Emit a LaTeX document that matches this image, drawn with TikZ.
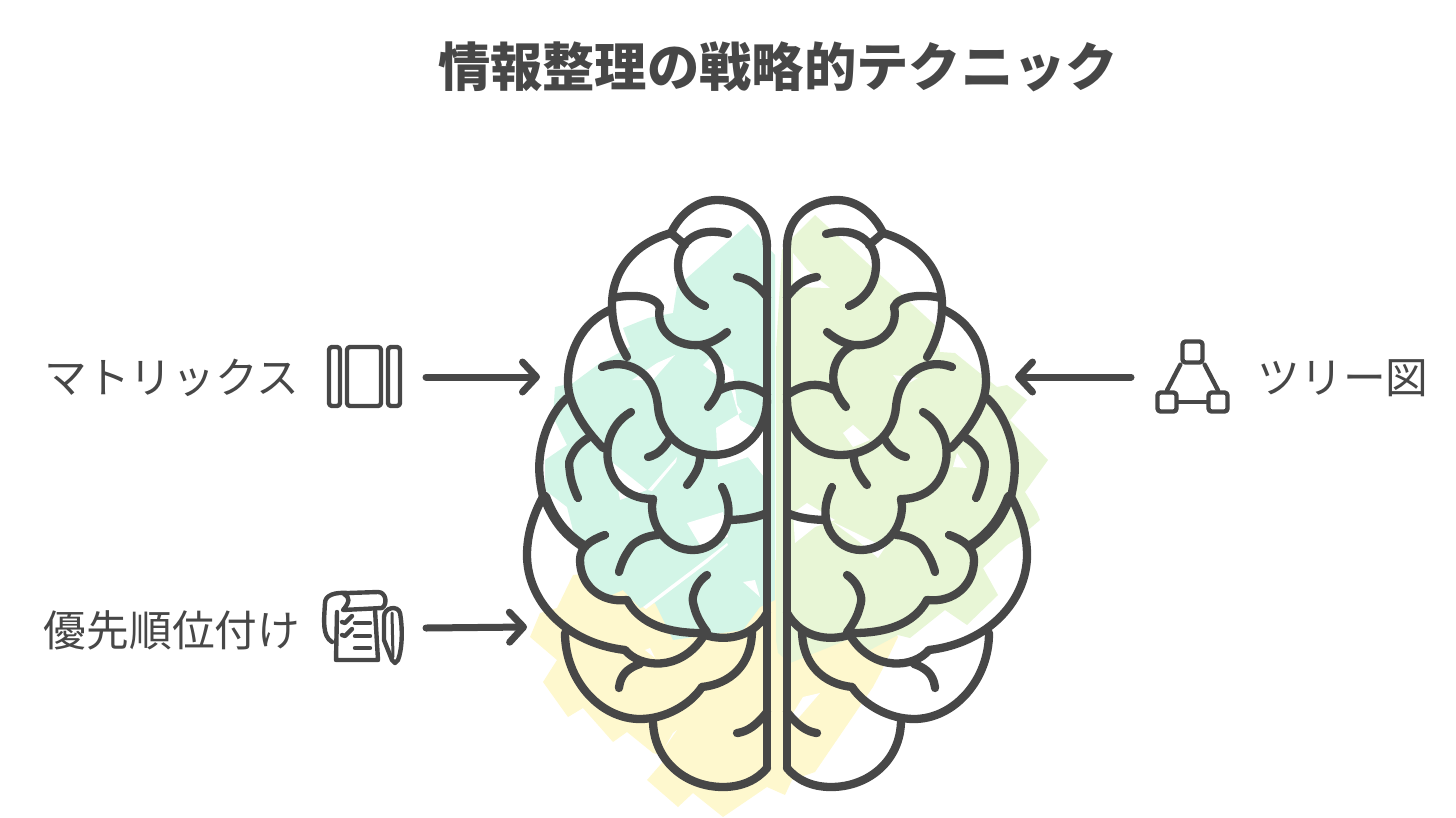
\documentclass[tikz,border=0pt]{standalone}
\usepackage{fontspec}
\setmainfont{Noto Sans CJK JP}
\usetikzlibrary{arrows.meta}
\definecolor{inkgray}{HTML}{474747}
\definecolor{mintpatch}{HTML}{D3F5E7}
\definecolor{greenpatch}{HTML}{E8F6D6}
\definecolor{yellowpatch}{HTML}{FEF8CE}
\tikzset{
 every plot/.style={smooth, tension=.95},
 brainline/.style={draw=inkgray, line width=8.3pt, line cap=round, line join=round},
 iconline/.style={draw=inkgray, line width=4.4pt, line cap=round, line join=round},
 iconbox/.style={iconline, rounded corners=3pt, minimum size=19pt, inner sep=0pt},
 pointer/.style={draw=inkgray, line width=7pt, line cap=round, -{Straight Barb[length=14pt,width=30pt,round]}},
 label/.style={text=inkgray, font=\fontsize{42.7}{43}\selectfont, inner sep=0pt},
}
\begin{document}
\begin{tikzpicture}[x=1pt,y=-1pt]
\useasboundingbox (0,0) rectangle (1456,817);
% patches behind the brain
\fill[yellowpatch] (573,575)--(557,608)--(540,613)--(530,637)--(557,660)--(543,682)--(568,717)--(583,708)--(613,742)--(627,732)--(653,753)--(667,757)--(647,780)--(678,807)--(693,793)--(723,817)--(767,787)--(785,795)--(792,780)--(815,772)--(873,687)--(882,670)--(898,637)--(850,560)--(700,560)--cycle;
\fill[greenpatch] (815,215)--(793,237)--(782,250)--(776,350)--(776,640)--(778,653)--(790,663)--(847,640)--(870,650)--(898,635)--(910,638)--(945,610)--(967,625)--(998,595)--(983,568)--(1007,545)--(1020,537)--(1040,520)--(1037,512)--(1025,492)--(1048,460)--(1010,420)--(1027,400)--(1007,385)--(997,387)--(955,353)--(940,352)--(937,327)--cycle;
\fill[mintpatch] (748,224)--(775,255)--(775,600)--(760,607)--(743,630)--(673,640)--(655,603)--(640,608)--(623,590)--(607,597)--(585,577)--(567,507)--(545,490)--(545,460)--(567,445)--(553,417)--(555,387)--(573,383)--(600,363)--(630,347)--(623,328)--(648,318)--(673,313)--(677,287)--(687,278)--cycle;
% gaps left in the patches
\foreach \gap in {
 {(632,380)--(657,363)--(675,355)--(653,380)--cycle},
 {(703,365)--(713,355)--(733,370)--(737,405)--(742,412)--(716,428)--(718,467)--(748,457)--(764,477)--(764,433)--(740,420)--(730,385)--cycle},
 {(613,463)--(647,490)--(620,500)--cycle},
 {(648,490)--(677,457)--(676,462)--(652,491)--cycle},
 {(687,523)--(723,512)--(728,537)--(700,545)--cycle},
 {(643,607)--(705,560)--(727,543)--(728,545)--(707,563)--(646,609)--cycle},
 {(743,582)--(755,580)--(760,597)--cycle},
 {(793,253)--(807,270)--(830,288)--(793,287)--cycle},
 {(893,375)--(918,378)--(902,387)--cycle},
 {(843,433)--(853,425)--(870,440)--(853,447)--cycle},
 {(957,453)--(967,468)--(953,467)--cycle},
 {(793,513)--(807,503)--(835,520)--(815,527)--(795,543)--cycle},
 {(833,522)--(857,540)--(878,558)--(900,525)--(880,545)--(860,535)--cycle},
 {(803,697)--(820,693)--(795,722)--(790,718)--cycle},
 {(645,650)--(650,648)--(655,658)--cycle},
 {(673,733)--(677,730)--(665,747)--cycle}} {
 \fill[white] \gap;
}
% one half of the brain, then its mirror image
\foreach \off/\side in {0/1, 1554/-1} {
\begin{scope}[xshift=\off pt, xscale=\side]
 \draw[brainline] (767,247)--(767,768);
 \draw[brainline] (767,247) .. controls (767,218) and (745,200) .. (717,200) .. controls (697,200) and (680,214) .. (671,233);
 \draw[brainline] (671,233) .. controls (635,243) and (612,270) .. (612,305) .. controls (612,325) and (618,342) .. (627,357);
 \draw[brainline] (671,233)--(685,245);
 \draw[brainline] (728,234) .. controls (700,226) and (678,240) .. (678,265) .. controls (678,285) and (690,300) .. (705,306);
 \draw[brainline] (613,298) .. controls (630,294) and (655,295) .. (660,307);
 \draw[brainline] (660,307) .. controls (655,330) and (675,347) .. (700,345) .. controls (710,344) and (720,338) .. (727,332);
 \draw[brainline] (700,345) .. controls (718,352) and (732,380) .. (708,407);
 \draw[brainline] plot coordinates {(720,390) (743,385) (767,395)};
 \draw[brainline] plot coordinates {(737,277) (753,283) (767,297)};
 \draw[brainline] (602,367) .. controls (625,358) and (655,370) .. (658,407) .. controls (660,435) and (685,455) .. (713,455) .. controls (745,455) and (767,430) .. (767,400);
 \draw[brainline] (610,310) .. controls (583,322) and (568,350) .. (568,382) .. controls (568,405) and (585,430) .. (603,448);
 \draw[brainline] (631,412) .. controls (608,425) and (600,455) .. (615,480) .. controls (625,495) and (640,499) .. (653,499);
 \draw[brainline] (653,499)--(652,506) .. controls (652,530) and (670,550) .. (693,550) .. controls (718,550) and (740,522) .. (722,487);
 \draw[brainline] plot coordinates {(729,520) (750,518) (767,513)};
 \draw[brainline] plot coordinates {(648,457) (660,451) (670,438)};
 \draw[brainline] plot coordinates {(687,485) (697,470) (700,457)};
 \draw[brainline] plot coordinates {(578,498) (570,473) (573,453) (588,438)};
 \draw[brainline] (567,398) .. controls (548,415) and (536,450) .. (540,480) .. controls (541,488) and (542,492) .. (543,497);
 \draw[brainline] (543,497) .. controls (533,515) and (527,535) .. (527,555) .. controls (527,600) and (565,643) .. (625,650);
 \draw[brainline, line width=10.5pt] plot coordinates {(545,497) (560,525) (582,545)};
 \draw[brainline] (605,535) .. controls (590,540) and (580,548) .. (580,560) .. controls (580,585) and (600,603) .. (627,600);
 \draw[brainline] (627,600) .. controls (640,625) and (670,633) .. (700,633) .. controls (720,642) and (752,640) .. (767,613);
 \draw[brainline] plot coordinates {(619,572) (627,553) (640,540) (658,535)};
 \draw[brainline] plot coordinates {(707,575) (695,590) (695,610) (707,632)};
 \draw[brainline] (625,650) .. controls (640,668) and (680,672) .. (703,637);
 \draw[brainline] plot coordinates {(619,688) (625,673) (640,664)};
 \draw[brainline] (565,633) .. controls (565,680) and (600,719) .. (640,719) .. controls (665,719) and (690,705) .. (702,687);
 \draw[brainline] (702,687) .. controls (730,684) and (752,665) .. (752,630);
 \draw[brainline] (653,720) .. controls (653,760) and (685,787) .. (723,787) .. controls (742,787) and (757,780) .. (767,768);
 \draw[brainline] plot coordinates {(737,733) (752,727) (767,712)};
\end{scope}
}
% title and labels
\node[text=inkgray, font=\fontsize{52.3}{53}\selectfont\bfseries, inner sep=0pt] (title) at (778,67) {情報整理の戦略的テクニック};
\node[label] (matrixlabel) at (172,378) {マトリックス};
\node[label] (prioritylabel) at (172,630) {優先順位付け};
\node[label] (treelabel) at (1343,378) {ツリー図};
% matrix icon
\foreach \xa/\xb in {329/340, 347/381, 388/400} {
 \draw[iconline, rounded corners=3pt] (\xa,347) rectangle (\xb,406);
}
% priority icon
\draw[iconline] (337,612)--(336,660)--(378,660)--(375,610);
\draw[iconline] (332,642) .. controls (322,636) and (324,620) .. (325,603) .. controls (325,595) and (335,592) .. (348,593)--(378,592) .. controls (386,592) and (388,604) .. (382,608)--(343,610) .. controls (350,602) and (350,597) .. (344,594);
\foreach \y in {623,636} {
 \draw[iconline] (342,\y-1)--(345,\y)--(352,\y-7);
}
\foreach \y in {623,636,648} {
 \draw[iconline] (355,\y)--(370,\y);
}
\draw[iconline] (384,640)--(384,617) .. controls (384,607) and (398,605) .. (400,613) .. controls (403,630) and (402,650) .. (398,660)--(395,663)--(392,660)--(384,640);
\draw[iconline, line width=3pt] (392,613)--(393,657);
% tree icon
\node[iconbox, minimum width=20pt, minimum height=21pt] (treetop) at (1192.5,352) {};
\node[iconbox] (treeleft) at (1167,402) {};
\node[iconbox] (treeright) at (1218,402) {};
\draw[iconline] (treetop.south west)--(treeleft.north);
\draw[iconline] (treetop.south east)--(treeright.north);
\draw[iconline] (treeleft)--(treeright);
% arrows
\coordinate (matrixtail) at (426,377);
\coordinate (matrixtip) at (540,377);
\coordinate (prioritytail) at (426,628);
\coordinate (prioritytip) at (527,627);
\coordinate (treetail) at (1131,377);
\coordinate (treetip) at (1015,377);
\draw[pointer] (matrixtail)--(matrixtip);
\draw[pointer] (prioritytail)--(prioritytip);
\draw[pointer] (treetail)--(treetip);
\end{tikzpicture}
\end{document}
